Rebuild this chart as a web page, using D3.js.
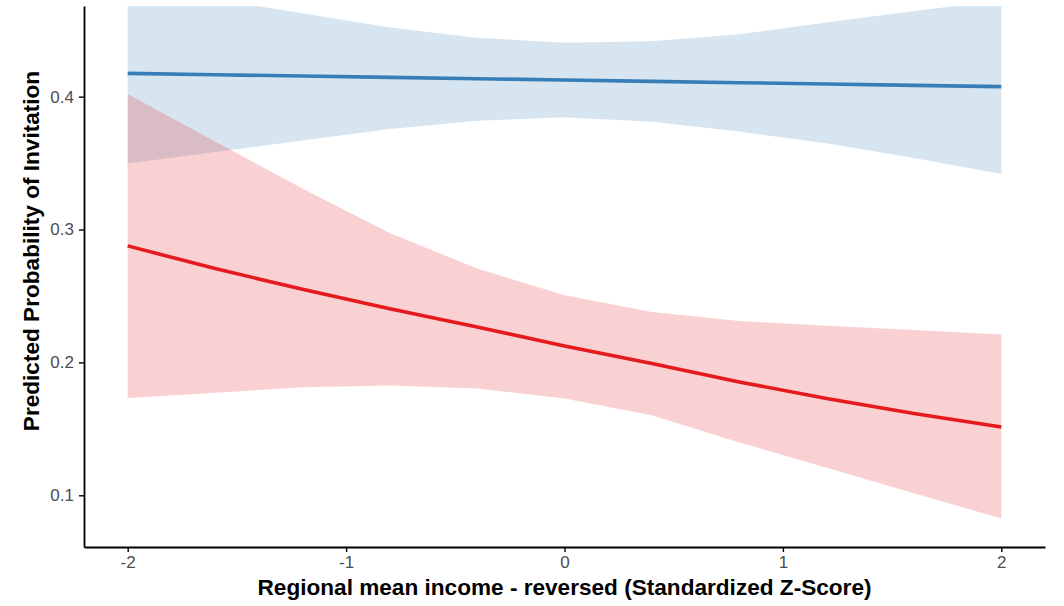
<html lang="en">
<head>
    <meta charset="utf-8">
    <title>Predicted Probability of Invitation</title>
    <style>
        body {
            margin: 0;
            background-color: white;
        }
        svg text {
            font-family: "Liberation Sans", Arial, sans-serif;
        }
        .axis path, .axis line {
            stroke: black;
        }
        .axis text {
            fill: #4d4d4d;
            font-size: 17px;
        }
        .title {
            font-size: 22.6px;
            font-weight: bold;
            fill: black;
        }
    </style>
</head>
<body>
<div id="chart"></div>
<script src="https://d3js.org/d3.v7.min.js"></script>
<script>
    // values
    var xValues = [-2, -1.6, -1.2, -0.8, -0.4, 0, 0.4, 0.8, 1.2, 1.6, 2];

    var blueFit   = [0.4175, 0.4165, 0.4155, 0.4145, 0.4135, 0.4125, 0.4115, 0.4105, 0.4095, 0.4085, 0.4075];
    var blueUpper = [0.482, 0.4731, 0.4628, 0.452, 0.4444, 0.4406, 0.4416, 0.4469, 0.4558, 0.4645, 0.4723];
    var blueLower = [0.3497, 0.3583, 0.3669, 0.3756, 0.3818, 0.3844, 0.3811, 0.3737, 0.3649, 0.3538, 0.3417];

    var redFit   = [0.2877, 0.2706, 0.2551, 0.2404, 0.2267, 0.2124, 0.1992, 0.1853, 0.1728, 0.1615, 0.1514];
    var redUpper = [0.402, 0.3662, 0.3309, 0.2973, 0.2707, 0.2506, 0.238, 0.2312, 0.2276, 0.2243, 0.221];
    var redLower = [0.1733, 0.1772, 0.1813, 0.1826, 0.1803, 0.1728, 0.1602, 0.1398, 0.1207, 0.1016, 0.0825];

    var xTicks = [-2, -1, 0, 1, 2];
    var yTicks = [0.1, 0.2, 0.3, 0.4];

    var width = 1064;
    var height = 606;
    var pLeft = 84, pRight = 1045, pTop = 6, pBottom = 547;

    var svg = d3.select("#chart").append("svg")
        .attr("width", width)
        .attr("height", height);

    var x = d3.scaleLinear().domain([-2.2, 2.2]).range([pLeft, pRight]);
    var y = d3.scaleLinear().domain([0.0611, 0.4682]).range([pBottom, pTop]);

    svg.append("clipPath").attr("id", "panel")
        .append("rect")
        .attr("x", pLeft).attr("y", pTop)
        .attr("width", pRight - pLeft).attr("height", pBottom - pTop);

    var series = [
        {fit: blueFit, upper: blueUpper, lower: blueLower, color: "#377EB8"},
        {fit: redFit, upper: redUpper, lower: redLower, color: "#E41A1C"}
    ];

    var area = function(s) {
        return d3.area()
            .x((d, i) => x(xValues[i]))
            .y0((d, i) => y(s.lower[i]))
            .y1((d, i) => y(s.upper[i]))(xValues);
    };
    var line = function(s) {
        return d3.line()
            .x((d, i) => x(xValues[i]))
            .y((d, i) => y(s.fit[i]))(xValues);
    };

    var g = svg.append("g").attr("clip-path", "url(#panel)");

    series.forEach(s => {
        g.append("path")
            .attr("d", area(s))
            .attr("fill", s.color)
            .attr("fill-opacity", 0.2);
    });
    series.forEach(s => {
        g.append("path")
            .attr("d", line(s))
            .attr("fill", "none")
            .attr("stroke", s.color)
            .attr("stroke-width", 3.6);
    });

    // axes
    var xAxis = svg.append("g")
        .attr("class", "axis")
        .attr("transform", "translate(0," + pBottom + ")")
        .call(d3.axisBottom(x).tickValues(xTicks).tickSize(5).tickPadding(4).tickSizeOuter(0).tickFormat(d3.format("d")));
    var yAxis = svg.append("g")
        .attr("class", "axis")
        .attr("transform", "translate(" + pLeft + ",0)")
        .call(d3.axisLeft(y).tickValues(yTicks).tickSize(5).tickPadding(5).tickSizeOuter(0).tickFormat(d3.format(".1f")));

    svg.selectAll(".axis .domain").attr("stroke-width", 1.8);
    svg.selectAll(".axis .tick line").attr("stroke", "#333").attr("stroke-width", 1.4);
    xAxis.selectAll("text").text(d => d < 0 ? "-" + Math.abs(d) : d);

    svg.append("text")
        .attr("class", "title")
        .attr("x", x(0))
        .attr("y", 595)
        .attr("text-anchor", "middle")
        .text("Regional mean income - reversed (Standardized Z-Score)");

    svg.append("text")
        .attr("class", "title")
        .attr("transform", "translate(39,251) rotate(-90)")
        .attr("text-anchor", "middle")
        .text("Predicted Probability of Invitation");
</script>
</body>
</html>
